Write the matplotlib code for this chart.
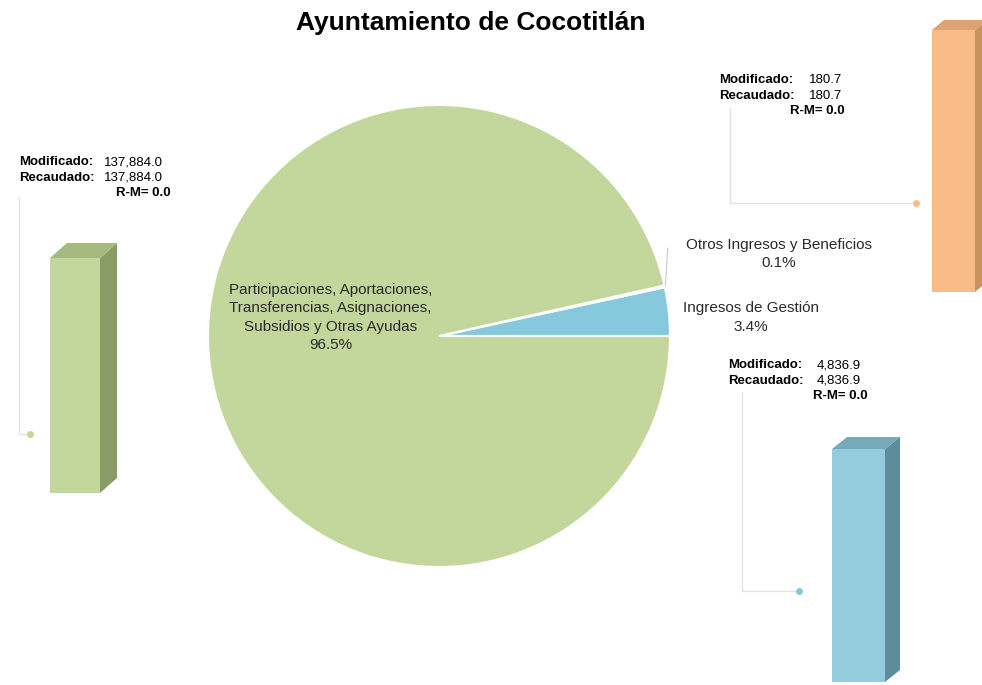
import numpy as np
import matplotlib
matplotlib.use("Agg")
import matplotlib.pyplot as plt
from matplotlib.patches import Polygon
from matplotlib.lines import Line2D

plt.rcParams['font.family'] = ['Liberation Sans', 'DejaVu Sans']

# datos
titulo = "Ayuntamiento de Cocotitlán"
rubros = ["Ingresos de Gestión", "Otros Ingresos y Beneficios",
          "Participaciones, Aportaciones,\nTransferencias, Asignaciones,\nSubsidios y Otras Ayudas"]
modificado = [4836.9, 180.7, 137884.0]
recaudado = [4836.9, 180.7, 137884.0]
colores = ["#86C9DC", "#F9BC88", "#C3D69B"]
lados = ["#5F8C9B", "#C8935F", "#8A9C66"]
topes = ["#78A9B8", "#DDA373", "#A6B97F"]

W, H = 982, 685
fig = plt.figure(figsize=(W / 100, H / 100), dpi=100)

def px(x0, y0, x1, y1):
    # rect en pixeles (origen arriba-izq) -> fraccion de figura
    return [x0 / W, 1 - y1 / H, (x1 - x0) / W, (y1 - y0) / H]

# pastel
cx, cy, r = 439, 336, 231
axp = fig.add_axes(px(cx - r, cy - r, cx + r, cy + r))
wedges, _ = axp.pie(recaudado, colors=colores, startangle=0, counterclock=True,
                    wedgeprops=dict(edgecolor="white", linewidth=1.5))
axp.set_xlim(-1, 1)
axp.set_ylim(-1, 1)
axp.set_aspect("equal")
axp.axis("off")

total = sum(recaudado)
pct = [v / total * 100 for v in recaudado]
pos_lbl = [(1.35, 0.08), (1.47, 0.355), (-0.47, 0.08)]
for i in range(3):
    axp.text(pos_lbl[i][0], pos_lbl[i][1], "%s\n%.1f%%" % (rubros[i], pct[i]),
             ha="center", va="center", fontsize=11, color="#2A2A2A",
             linespacing=1.42, clip_on=False)
# linea guia de Otros
axp.plot([0.98, 0.99], [0.22, 0.38], color="#C8C8C8", lw=0.8, clip_on=False)

# barras 3d
def barra(rect, v, cf, cs, ct, sx, dy):
    ax = fig.add_axes(px(*rect))
    d = v * dy
    ax.bar([0], [v], width=1, align="edge", color=cf, edgecolor="none")
    ax.add_patch(Polygon([(1, 0), (1 + sx, d), (1 + sx, v + d), (1, v)], closed=True,
                         facecolor=cs, edgecolor="none"))
    ax.add_patch(Polygon([(0, v), (sx, v + d), (1 + sx, v + d), (1, v)], closed=True,
                         facecolor=ct, edgecolor="none"))
    ax.set_xlim(0, 1 + sx)
    ax.set_ylim(0, v + d)
    ax.axis("off")

barra((50, 243, 117, 493), recaudado[2], colores[2], lados[2], topes[2], 0.34, 15 / 235)
barra((832, 437, 900, 682), recaudado[0], "#93CDDD", lados[0], topes[0], 0.283, 12 / 233)
barra((932, 20, 987, 292), recaudado[1], colores[1], lados[1], topes[1], 0.28, 10 / 262)

# capa de anotaciones
ov = fig.add_axes([0, 0, 1, 1], facecolor="none")
ov.set_xlim(0, W)
ov.set_ylim(H, 0)
ov.axis("off")

ov.text(471, 23, titulo, ha="center", va="center", fontsize=19, fontweight="bold")

notas = [
    (19, 162, 104, 171, 2),
    (719, 80, 809, 845, 1),
    (728, 365, 817, 868, 0),
]
for x, y, xv, xr, i in notas:
    ov.text(x, y, "Modificado:", fontsize=9.5, fontweight="bold", va="center")
    ov.text(xv, y, "{:,.1f}".format(modificado[i]), fontsize=9.5, va="center")
    ov.text(x, y + 15.5, "Recaudado:", fontsize=9.5, fontweight="bold", va="center")
    ov.text(xv, y + 15.5, "{:,.1f}".format(recaudado[i]), fontsize=9.5, va="center")
    ov.text(xr, y + 31, "R-M= %.1f" % (recaudado[i] - modificado[i]), fontsize=9.5,
            fontweight="bold", va="center", ha="right")

guias = [
    ([19, 19, 28], [197, 434, 434], "#C3D69B"),
    ([730, 730, 914], [108, 203, 203], "#F9BC88"),
    ([742, 742, 797], [393, 591, 591], "#86C9DC"),
]
for xs, ys, c in guias:
    ov.add_line(Line2D(xs, ys, color="#E2E2E2", lw=1))
    ov.plot(xs[-1] + 2, ys[-1], "o", color=c, ms=4)

fig.savefig("out.png", dpi=100)
